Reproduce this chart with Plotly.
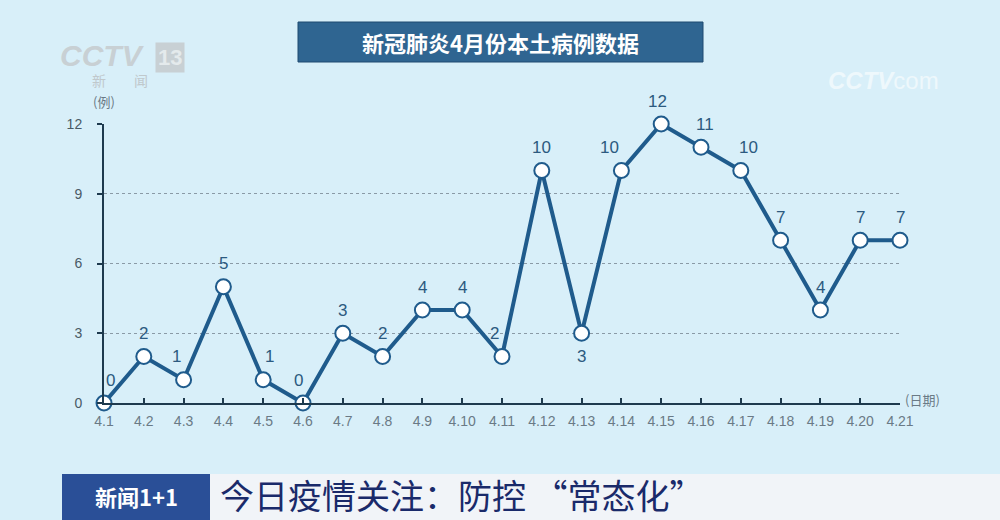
import plotly.graph_objects as go

dates = ["4.1", "4.2", "4.3", "4.4", "4.5", "4.6", "4.7", "4.8", "4.9", "4.10", "4.11",
         "4.12", "4.13", "4.14", "4.15", "4.16", "4.17", "4.18", "4.19", "4.20", "4.21"]
cases = [0, 2, 1, 5, 1, 0, 3, 2, 4, 4, 2, 10, 3, 10, 12, 11, 10, 7, 4, 7, 7]
label_below = [False] * 12 + [True] + [False] * 8
y_ticks = [0, 3, 6, 9, 12]
title_text = "新冠肺炎4月份本土病例数据"
banner_text = "今日疫情关注：防控 \u201c常态化\u201d"

# small horizontal nudges of value labels (style only)
label_dx = [6, 0, -7, 0, 6, -5, 0, 0, 0, 0, -8, 0, 0, -12, -4, 4, 8, 0, 0, 0, 0]

BG = "#d8eff9"
LINE = "#1f5b8c"
LABEL = "#2c5a80"
TICK = "#6a7a86"

L, R, T, B = 104, 900, 124, 403
W, H = 1000, 520


def px(x):
    return (x - L) / (R - L)


def py(y):
    return (B - y) / (B - T)


fig = go.Figure()
fig.add_trace(go.Scatter(
    x=list(range(len(dates))), y=cases,
    mode="lines+markers",
    line=dict(color=LINE, width=4),
    marker=dict(size=15, color="white", line=dict(color=LINE, width=2)),
    cliponaxis=False,
    showlegend=False,
    hoverinfo="skip",
))

fig.update_xaxes(
    range=[0, len(dates) - 1],
    tickmode="array", tickvals=list(range(len(dates))), ticktext=dates,
    showgrid=False, zeroline=False,
    showline=True, linecolor="#1e3a4e", linewidth=2,
    ticks="inside", ticklen=5, tickcolor="#1e3a4e", tickwidth=2,
    ticklabelstandoff=4,
    tickfont=dict(family="Liberation Sans, Arial", size=14, color=TICK),
)
fig.update_yaxes(
    range=[0, 12],
    tickmode="array", tickvals=y_ticks,
    showgrid=True, gridcolor="#8a9aa6", griddash="dot", gridwidth=1,
    zeroline=False,
    showline=True, linecolor="#1e3a4e", linewidth=2,
    ticks="outside", ticklen=5, tickcolor="#1e3a4e", tickwidth=2,
    ticklabelstandoff=12,
    tickfont=dict(family="Liberation Sans, Arial", size=14, color="#4a5a66"),
)

shapes = [
    dict(type="rect", xref="paper", yref="paper",
         x0=px(298), x1=px(703), y0=py(62), y1=py(22),
         fillcolor="#2f6591", line=dict(color="#1e4a70", width=1), layer="above"),
    dict(type="rect", xref="paper", yref="paper",
         x0=px(62), x1=px(210), y0=py(520), y1=py(474),
         fillcolor="#2a4f97", line=dict(width=0), layer="above"),
    dict(type="rect", xref="paper", yref="paper",
         x0=px(210), x1=px(1000), y0=py(520), y1=py(474),
         fillcolor="#f1f4f8", line=dict(width=0), layer="above"),
]

annotations = []
for i, v in enumerate(cases):
    annotations.append(dict(
        x=i, y=v, xref="x", yref="y", text=str(v), showarrow=False,
        yshift=-23 if label_below[i] else 23,
        xshift=label_dx[i],
        font=dict(family="Liberation Sans, Arial", size=17, color=LABEL),
        xanchor="center", yanchor="middle",
    ))

annotations += [
    dict(text="<b>" + title_text + "</b>", xref="paper", yref="paper", x=px(500), y=py(42),
         showarrow=False, font=dict(family="Noto Sans CJK SC", size=22, color="white"),
         xanchor="center", yanchor="middle"),
    dict(text="(例)", xref="paper", yref="paper", x=px(104), y=py(102),
         showarrow=False, font=dict(family="Noto Sans CJK SC", size=13, color=TICK),
         xanchor="center", yanchor="middle"),
    dict(text="(日期)", xref="paper", yref="paper", x=px(903), y=py(399),
         showarrow=False, font=dict(family="Noto Sans CJK SC", size=13, color=TICK),
         xanchor="left", yanchor="middle"),
    dict(text="<b>新闻1+1</b>", xref="paper", yref="paper", x=px(136), y=py(496),
         showarrow=False, font=dict(family="Noto Sans CJK SC", size=22, color="white"),
         xanchor="center", yanchor="middle"),
    dict(text=banner_text, xref="paper", yref="paper", x=px(218), y=py(494),
         showarrow=False, font=dict(family="Noto Sans CJK SC", size=34, color="#1a2a6a"),
         xanchor="left", yanchor="middle"),
    dict(text="<b><i>CCTV</i></b>", xref="paper", yref="paper", x=px(58), y=py(55),
         showarrow=False, font=dict(family="Liberation Sans, Arial", size=30, color="#c8d0d4"),
         xanchor="left", yanchor="middle"),
    dict(text="<b>13</b>", xref="paper", yref="paper", x=px(170), y=py(57),
         showarrow=False, font=dict(family="Liberation Sans, Arial", size=22, color="#e4eaec"),
         bgcolor="#c8d0d4", borderpad=2, xanchor="center", yanchor="middle"),
    dict(text="新　　闻", xref="paper", yref="paper", x=px(90), y=py(80),
         showarrow=False, font=dict(family="Noto Sans CJK SC", size=14, color="#c0c8cc"),
         xanchor="left", yanchor="middle"),
    dict(text="<b><i>CCTV</i></b>com", xref="paper", yref="paper", x=px(826), y=py(80),
         showarrow=False, font=dict(family="Liberation Sans, Arial", size=24, color="#eef8fc"),
         xanchor="left", yanchor="middle"),
]

fig.update_layout(
    width=W, height=H,
    margin=dict(l=L, r=W - R, t=T, b=H - B),
    paper_bgcolor=BG, plot_bgcolor=BG,
    shapes=shapes, annotations=annotations,
    showlegend=False,
    hovermode=False,
)

fig.write_html("out.html", config={"displayModeBar": False},
               post_script="document.body.style.margin='0';document.body.style.padding='0';")
